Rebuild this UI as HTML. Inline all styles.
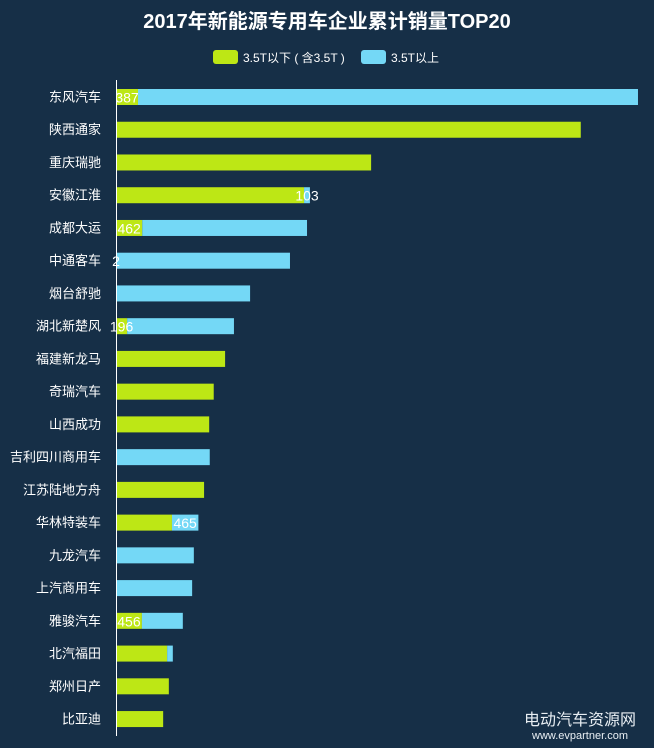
<!DOCTYPE html>
<html><head><meta charset="utf-8"><style>
html,body{margin:0;padding:0;background:#162f47;}
svg{display:block;font-family:"Liberation Sans","Noto Sans CJK SC",sans-serif;}
</style></head><body>
<svg id="chart" width="654" height="748" viewBox="0 0 654 748" xmlns="http://www.w3.org/2000/svg">
<rect x="0" y="0" width="654" height="748" fill="#162f47"/>
<text x="327" y="28" text-anchor="middle" font-size="20" font-weight="bold" fill="#ffffff">2017年新能源专用车企业累计销量TOP20</text>
<g>
<rect x="213" y="50" width="25" height="14" rx="3" fill="#bde715"/>
<text x="243" y="62" font-size="12" fill="#ffffff">3.5T以下 ( 含3.5T )</text>
<rect x="361" y="50" width="25" height="14" rx="3" fill="#74d8f6"/>
<text x="391" y="62" font-size="12" fill="#ffffff">3.5T以上</text>
</g>
<g id="bars"></g>
<line x1="116.5" y1="80" x2="116.5" y2="736" stroke="#ffffff" stroke-width="1"/>
<text x="580" y="725" text-anchor="middle" font-size="16" fill="#e8eef3">电动汽车资源网</text>
<text x="580" y="739" text-anchor="middle" font-size="11" fill="#e8eef3">www.evpartner.com</text>
</svg>
<script>
const categories = ["东风汽车","陕西通家","重庆瑞驰","安徽江淮","成都大运","中通客车","烟台舒驰","湖北新楚风","福建新龙马","奇瑞汽车","山西成功","吉利四川商用车","江苏陆地方舟","华林特装车","九龙汽车","上汽商用车","雅骏汽车","北汽福田","郑州日产","比亚迪"];
const lightValues = [387,8180,4490,3310,462,2,0,196,1920,1720,1640,0,1550,985,0,0,456,900,930,830];
const heavyValues = [8800,0,0,103,2900,3060,2360,1880,0,0,0,1650,0,465,1370,1340,720,100,0,0];
const lightLabels = ["387","","","","462","2","","196","","","","","","","","","456","","",""];
const heavyLabels = ["","","","103","","","","","","","","","","465","","","","","",""];

const NS = "http://www.w3.org/2000/svg";
const x0 = 116, pxPer = 1/17.6;
function xScale(v){ return x0 + v*pxPer; }
function yCenter(i){ return 97 + i*32.74; }
const g = document.getElementById('bars');
function mk(tag, attrs){ const e=document.createElementNS(NS,tag); for(const k in attrs) e.setAttribute(k,attrs[k]); return e; }
categories.forEach((c,i)=>{
  const yc = yCenter(i);
  const t = mk('text',{x:101,y:yc+4.5,'text-anchor':'end','font-size':13,fill:'#ffffff'});
  
  
  t.textContent = c; g.appendChild(t);
  const lx = xScale(0), lw = xScale(lightValues[i]) - xScale(0);
  const hx = xScale(lightValues[i]), hw = xScale(lightValues[i]+heavyValues[i]) - hx;
  if (lightValues[i] > 0) {
    const r = mk('rect',{x:lx,y:yc-8,width:lw,height:16,fill:'#bde715'});
    
    
    g.appendChild(r);
  }
  if (heavyValues[i] > 0) {
    const r = mk('rect',{x:hx,y:yc-8,width:hw,height:16,fill:'#74d8f6'});
    
    
    g.appendChild(r);
  }
  if (lightLabels[i]) {
    const l = mk('text',{x:lx+lw/2,y:yc+5.5,'text-anchor':'middle','font-size':14,fill:'#ffffff'});
    
    
    l.textContent = lightLabels[i]; g.appendChild(l);
  }
  if (heavyLabels[i]) {
    const l = mk('text',{x:hx+hw/2,y:yc+5.5,'text-anchor':'middle','font-size':14,fill:'#ffffff'});
    
    
    l.textContent = heavyLabels[i]; g.appendChild(l);
  }
});
</script>
</body></html>
